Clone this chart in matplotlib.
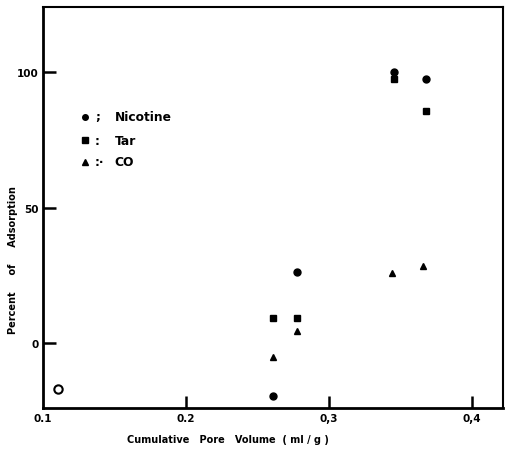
import matplotlib
matplotlib.use("Agg")
import matplotlib.pyplot as plt

plt.rcParams['font.family'] = ['DejaVu Sans']
plt.rcParams['font.weight'] = 'bold'

# values
nic_x = [0.2606, 0.2774, 0.3452, 0.3676]
nic_y = [-19.4, 26.1, 100.1, 97.4]
tar_x = [0.2606, 0.2774, 0.3452, 0.3676]
tar_y = [9.1, 9.1, 97.4, 85.7]
co_x = [0.2606, 0.2774, 0.3443, 0.3660]
co_y = [-5.0, 4.5, 25.8, 28.3]
xticks = [0.1, 0.2, 0.3, 0.4]
xlabels = ['0.1', '0.2', '0,3', '0,4']
yticks = [0, 50, 100]
ylabels = ['0', '50', '100']

fig = plt.figure(figsize=(5.05, 4.56), dpi=100)
ax = fig.add_axes([0.085, 0.103, 0.911, 0.879])

ax.plot(nic_x, nic_y, 'o', color='black', ms=5)
ax.plot(tar_x, tar_y, 's', color='black', ms=4.5)
ax.plot(co_x, co_y, '^', color='black', ms=5)
# stray open circle near the origin
ax.plot([0.1105], [-17], 'o', mfc='white', mec='black', mew=1.5, ms=6)

ax.set_xlim(0.1, 0.4217)
ax.set_ylim(-24, 124)
ax.set_xticks(xticks[1:])
ax.set_xticklabels([])
ax.set_yticks(yticks)
ax.set_yticklabels(ylabels, fontsize=7.5, fontweight='bold')
ax.tick_params(direction='in', length=9, width=1.8, pad=3)
for x, lab in zip(xticks, xlabels):
    ax.text(x, -0.012, lab, transform=ax.get_xaxis_transform(),
            ha='center', va='top', fontsize=7.5, fontweight='bold')

for s in ['left', 'bottom']:
    ax.spines[s].set_linewidth(2)
for s in ['top', 'right']:
    ax.spines[s].set_linewidth(1.5)

# legend drawn by hand
leg = [('o', 'Nicotine', ';'), ('s', 'Tar', ':'), ('^', 'CO', ':·')]
ly = [0.727, 0.668, 0.614]
for (m, name, sep), y in zip(leg, ly):
    ax.plot([0.091], [y], m, color='black', ms=4, transform=ax.transAxes)
    ax.text(0.113, y, sep, transform=ax.transAxes, ha='left', va='center',
            fontsize=8.5, fontweight='bold')
    ax.text(0.156, y, name, transform=ax.transAxes, ha='left', va='center',
            fontsize=8.8, fontweight='bold')

fig.text(0.452, 0.035, 'Cumulative   Pore   Volume  ( ml / g )',
         ha='center', va='center', fontsize=7, fontweight='bold')
fig.text(0.026, 0.43, 'Percent     of     Adsorption', rotation=90,
         ha='center', va='center', fontsize=7, fontweight='bold')

fig.savefig('out.png', dpi=100)
